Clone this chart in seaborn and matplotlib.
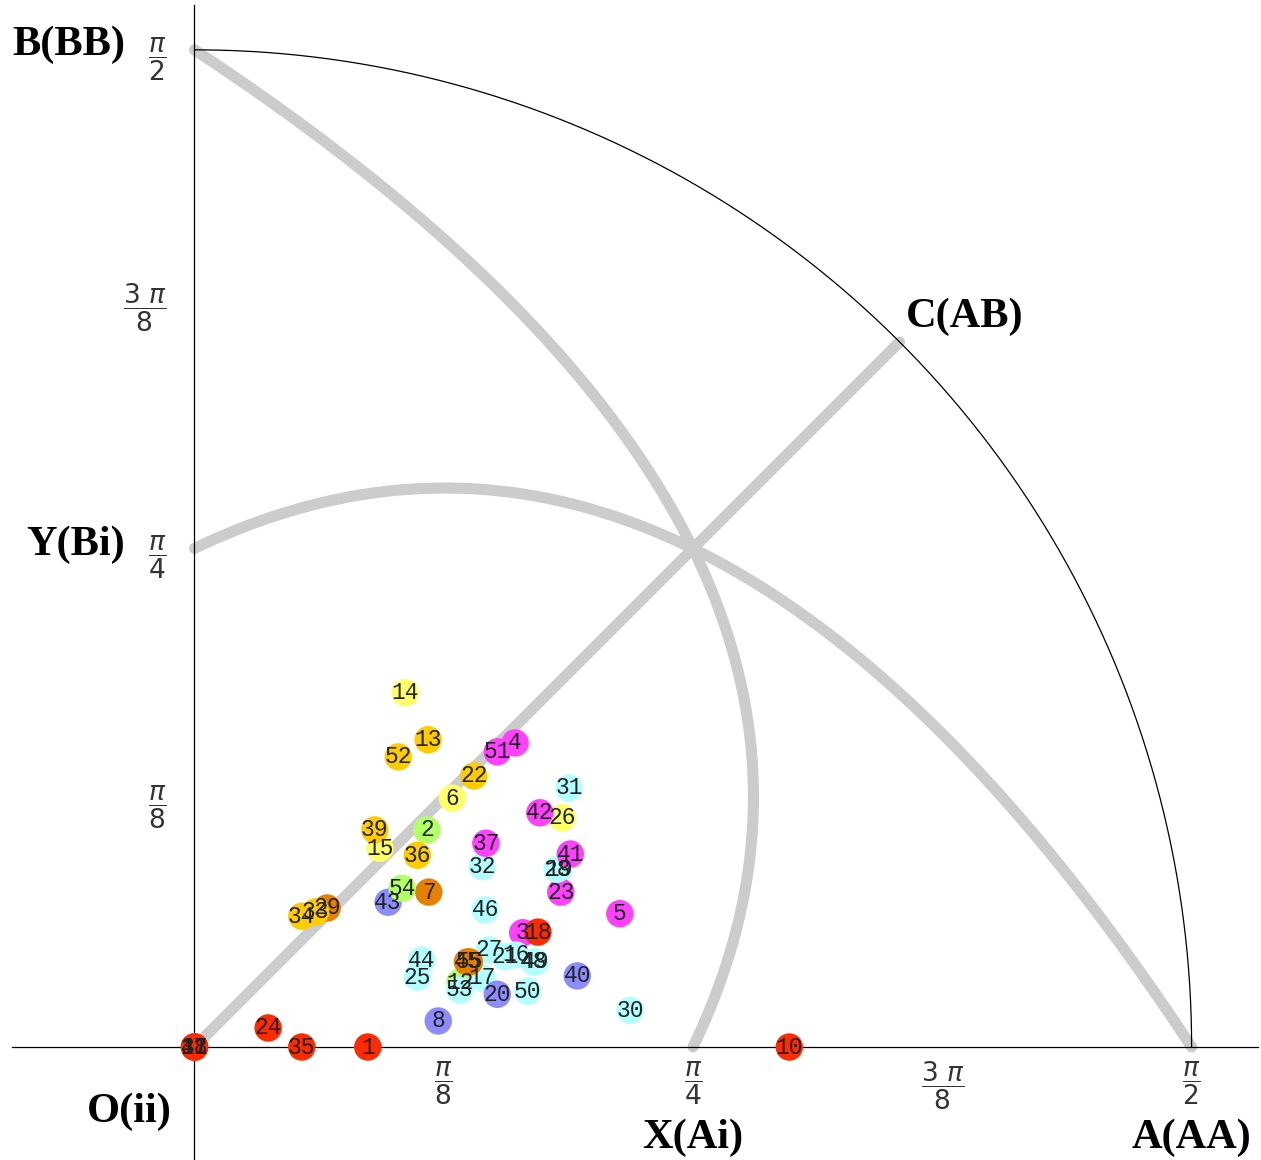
import numpy as np
import pandas as pd
import seaborn as sns
import matplotlib.pyplot as plt

# populations: label, position (radians) and colour group
labels = ['1', '2', '3', '4', '5', '6', '7', '8', '10', '11', '12', '13', '14', '15',
          '16', '17', '18', '19', '20', '21', '22', '23', '24', '25', '26', '27', '28',
          '29', '30', '31', '32', '33', '34', '35', '36', '37', '38', '39', '40', '41',
          '42', '43', '44', '45', '46', '47', '48', '49', '50', '51', '52', '53', '54', '55']
x_pos = [0.273, 0.366, 0.517, 0.505, 0.670, 0.406, 0.369, 0.384, 0.937, 0.000, 0.418, 0.368,
         0.332, 0.292, 0.506, 0.453, 0.541, 0.574, 0.477, 0.489, 0.440, 0.577, 0.116, 0.351,
         0.579, 0.464, 0.571, 0.209, 0.686, 0.590, 0.453, 0.191, 0.169, 0.169, 0.351, 0.459,
         0.000, 0.284, 0.603, 0.592, 0.544, 0.305, 0.358, 0.430, 0.458, 0.000, 0.535, 0.537,
         0.525, 0.477, 0.321, 0.418, 0.327, 0.433]
y_pos = [0.000, 0.342, 0.180, 0.479, 0.210, 0.392, 0.244, 0.041, 0.000, 0.000, 0.102, 0.484,
         0.558, 0.313, 0.145, 0.109, 0.181, 0.280, 0.083, 0.142, 0.427, 0.244, 0.030, 0.110,
         0.361, 0.153, 0.280, 0.219, 0.058, 0.408, 0.284, 0.213, 0.206, 0.000, 0.302, 0.321,
         0.000, 0.342, 0.112, 0.304, 0.369, 0.228, 0.137, 0.134, 0.216, 0.000, 0.134, 0.134,
         0.088, 0.465, 0.457, 0.090, 0.250, 0.134]
groups = ['red', 'green', 'magenta', 'magenta', 'magenta', 'yellow', 'orange', 'blue', 'red',
          'red', 'green', 'gold', 'yellow', 'yellow', 'cyan', 'cyan', 'red', 'cyan', 'blue',
          'cyan', 'gold', 'magenta', 'red', 'cyan', 'yellow', 'cyan', 'cyan', 'orange', 'cyan',
          'cyan', 'cyan', 'gold', 'gold', 'red', 'gold', 'magenta', 'red', 'gold', 'blue',
          'magenta', 'magenta', 'blue', 'cyan', 'orange', 'cyan', 'red', 'cyan', 'cyan', 'cyan',
          'magenta', 'gold', 'cyan', 'green', 'orange']

palette = {'red': '#ff2a00', 'gold': '#ffcc00', 'yellow': '#ffff66', 'green': '#b3ff66',
           'orange': '#e68000', 'magenta': '#ff40ff', 'cyan': '#b3ffff', 'blue': '#8c8cff'}

df = pd.DataFrame({'label': labels, 'x': x_pos, 'y': y_pos, 'group': groups})

h = np.pi / 2
q = np.pi / 4

sns.set_style('white')
plt.rcParams['mathtext.fontset'] = 'dejavusans'

fig = plt.figure(figsize=(12.61, 11.60), dpi=100)
ax = fig.add_axes([0, 0, 1, 1])
ax.set_xlim(-0.3064, 1.6801)
ax.set_ylim(-0.1780, 1.6493)


# quadratic guide curve between two corners
def bezier(p0, p1, p2, n=300):
    t = np.linspace(0, 1, n)[:, None]
    return (1 - t) ** 2 * np.array(p0) + 2 * t * (1 - t) * np.array(p1) + t ** 2 * np.array(p2)


gray = '#cccccc'
bx = bezier((0, h), (1.17, 0.80), (q, 0))
ay = bezier((h, 0), (0.80, 1.17), (0, q))
for c in (bx, ay):
    ax.plot(c[:, 0], c[:, 1], color=gray, lw=8, solid_capstyle='round', zorder=1)
ax.plot([0, h * np.cos(q)], [0, h * np.sin(q)], color=gray, lw=8,
        solid_capstyle='round', zorder=1)

# outer arc
phi = np.linspace(0, h, 300)
ax.plot(h * np.cos(phi), h * np.sin(phi), color='black', lw=0.9, zorder=1)

# axes through origin
for s in ['top', 'right']:
    ax.spines[s].set_visible(False)
ax.spines['bottom'].set_position(('data', 0))
ax.spines['left'].set_position(('data', 0))
ax.spines['bottom'].set_bounds(-0.2875, 1.6753)
ax.spines['left'].set_bounds(-0.1780, 1.6415)
for s in ['bottom', 'left']:
    ax.spines[s].set_color('black')
    ax.spines[s].set_linewidth(0.9)

ticks = [np.pi / 8, np.pi / 4, 3 * np.pi / 8, np.pi / 2]
tick_labels = [r'$\dfrac{\pi}{8}$', r'$\dfrac{\pi}{4}$', r'$\dfrac{3\ \pi}{8}$', r'$\dfrac{\pi}{2}$']
ax.set_xticks(ticks)
ax.set_xticklabels(tick_labels)
ax.set_yticks(ticks)
ax.set_yticklabels(tick_labels)
ax.tick_params(axis='both', direction='in', length=6, width=0.8, color='#444444',
               labelsize=19, labelcolor='#333333')
ax.tick_params(axis='x', pad=9)
ax.tick_params(axis='y', pad=20)

# points
sns.scatterplot(data=df, x='x', y='y', hue='group', palette=palette, s=390,
                linewidth=0, alpha=1, legend=False, ax=ax, zorder=3)
for _, r in df.iterrows():
    ax.text(r.x, r.y, r.label, ha='center', va='center', fontsize=16.5,
            family='Liberation Mono', color='#222222', zorder=4)

ax.set_xlabel('')
ax.set_ylabel('')

# corner labels
lab = dict(fontsize=30.5, fontweight='bold', family='Liberation Serif', color='black')
ax.text(-0.1095, 1.578, 'B(BB)', ha='right', va='center', **lab)
ax.text(-0.1095, 0.791, 'Y(Bi)', ha='right', va='center', **lab)
ax.text(-0.0354, -0.1024, 'O(ii)', ha='right', va='center', **lab)
ax.text(q, -0.1434, 'X(Ai)', ha='center', va='center', **lab)
ax.text(h, -0.1434, 'A(AA)', ha='center', va='center', **lab)
ax.text(1.1209, 1.150, 'C(AB)', ha='left', va='center', **lab)

fig.savefig('out.png', dpi=100)
